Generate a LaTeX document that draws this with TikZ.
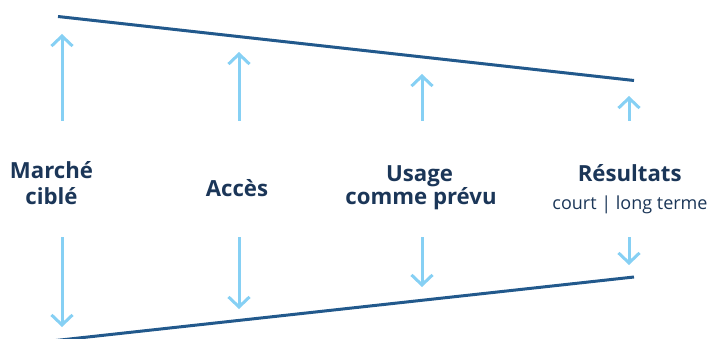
\documentclass[tikz,border=0pt]{standalone}
\usepackage{fontspec}
\setmainfont{Open Sans}
\usetikzlibrary{arrows.meta}
\definecolor{funnel}{HTML}{22598C}
\definecolor{flow}{HTML}{86D0F4}
\definecolor{ink}{HTML}{1B3658}
\tikzset{
  edge/.style={draw=funnel, line width=3pt, line cap=butt},
  flowarrow/.style={draw=flow, line width=3pt, -{Straight Barb[length=10pt, width=21pt, line width=3pt]}},
  stage/.style={text=ink, font=\fontsize{22.2}{26}\selectfont\bfseries, inner sep=0pt, anchor=base},
  detail/.style={text=ink, font=\fontsize{18}{21}\selectfont, inner sep=0pt, anchor=base}
}
\begin{document}
\begin{tikzpicture}[x=1pt, y=-1pt]
  \useasboundingbox (0,0) rectangle (709,339);
  % funnel edges
  \coordinate (tl) at (58,16.5);
  \coordinate (tr) at (634,80.5);
  \coordinate (bl) at (56,340.5);
  \coordinate (br) at (634,277);
  \begin{scope}
    \clip (0,0) rectangle (709,339);
    \draw[edge] (tl) -- (tr);
    \draw[edge] (bl) -- (br);
  \end{scope}
  % upward arrows
  \coordinate (u1s) at (62,121);  \coordinate (u1e) at (62,34);
  \coordinate (u2s) at (239,121); \coordinate (u2e) at (239,52);
  \coordinate (u3s) at (422,121); \coordinate (u3e) at (422,74);
  \coordinate (u4s) at (629,121); \coordinate (u4e) at (629,96);
  \draw[flowarrow] (u1s) -- (u1e);
  \draw[flowarrow] (u2s) -- (u2e);
  \draw[flowarrow] (u3s) -- (u3e);
  \draw[flowarrow] (u4s) -- (u4e);
  % downward arrows
  \coordinate (d1s) at (62,237);  \coordinate (d1e) at (62,327);
  \coordinate (d2s) at (239,237); \coordinate (d2e) at (239,309);
  \coordinate (d3s) at (422,237); \coordinate (d3e) at (422,287);
  \coordinate (d4s) at (629,237); \coordinate (d4e) at (629,265);
  \draw[flowarrow] (d1s) -- (d1e);
  \draw[flowarrow] (d2s) -- (d2e);
  \draw[flowarrow] (d3s) -- (d3e);
  \draw[flowarrow] (d4s) -- (d4e);
  % stage labels
  \node[stage] (m1) at (51.5,178.3) {Marché};
  \node[stage] (m2) at (51.5,204.3) {ciblé};
  \node[stage] (acc) at (237,196.7) {Accès};
  \node[stage] (us1) at (419.5,181.7) {Usage};
  \node[stage] (us2) at (421,204.3) {comme prévu};
  \node[stage] (res) at (629.7,181.7) {Résultats};
  \node[detail] (term) at (630,209.3) {court | long terme};
\end{tikzpicture}
\end{document}
